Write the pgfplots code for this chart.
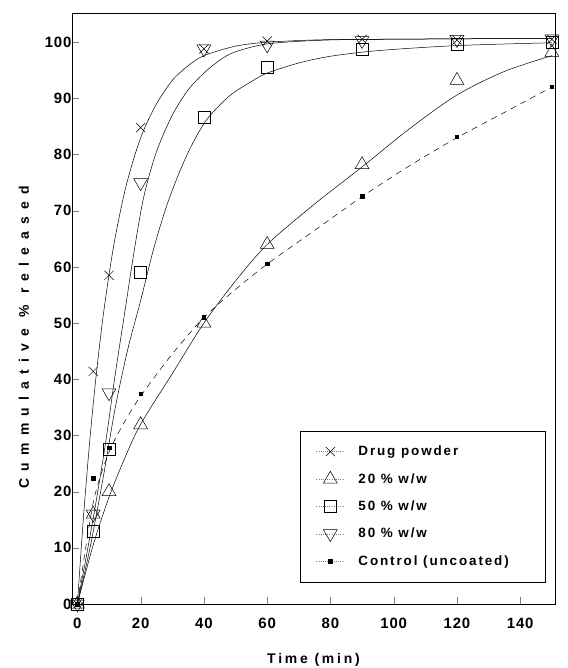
\documentclass[border=0pt]{standalone}
\usepackage{pgfplots}
\pgfplotsset{compat=1.18}
\usepackage{fontspec}
\setmainfont{Liberation Sans}

\begin{document}
\begin{tikzpicture}
\begin{axis}[
    name=ax,
    scale only axis, width=483bp, height=591bp,
    xmin=-1.7, xmax=151,
    ymin=0, ymax=105.2,
    xtick={0,20,...,140},
    ytick={0,10,...,100},
    tick align=inside,
    xtick pos=bottom, ytick pos=left,
    major tick length=7bp,
    axis line style={line width=0.6pt},
    /pgf/number format/assume math mode=true,
    tick label style={font=\bfseries\fontsize{15}{15}\selectfont\addfontfeatures{LetterSpace=6}},
    yticklabel style={xshift=3bp},
    xticklabel style={yshift=-11bp},
    xlabel={\addfontfeatures{LetterSpace=20}Time (min)},
    ylabel={\addfontfeatures{LetterSpace=52}Cummulative \% released},
    label style={font=\bfseries\fontsize{14}{14}\selectfont},
    xlabel style={yshift=-17bp},
    ylabel style={yshift=9bp, xshift=-29bp},
    clip=false,
    every axis plot/.append style={black, line width=0.5pt},
    legend style={at={(0.472,0.037)}, anchor=south west, draw=black, line width=0.5pt,
        font=\bfseries\fontsize{13.5}{13.5}\selectfont\addfontfeatures{LetterSpace=14},
        row sep=12bp, column sep=12bp, inner xsep=16bp, inner ysep=13bp,
        cells={anchor=west}},
    legend image code/.code={%
        \draw[gray, very thin, dotted] (0bp,0bp) -- (28bp,0bp);
        \draw[mark repeat=2,mark phase=2,#1,solid,only marks]
            plot coordinates {(0bp,0bp) (14bp,0bp) (28bp,0bp)};},
]
% fitted curves
\addplot[forget plot, smooth] coordinates {
    (0,0) (2,16) (4,29.6) (6,41) (8,50.6) (10,58.6) (12,65.4) (15,73.5) (18,79.6)
    (21,84.4) (25,89) (30,93.2) (35,95.8) (40,97.6) (50,99.3) (60,100) (75,100.4)
    (90,100.5) (120,100.6) (150,100.7)};
\addplot[forget plot, smooth] coordinates {
    (0,0) (3,9) (6,18.5) (9,29) (12,41) (15,52) (18,63) (21,72.5) (25,80.5) (30,87)
    (35,91.5) (40,94.5) (45,96.8) (50,98.3) (60,99.7) (75,100.3) (90,100.5)
    (120,100.6) (150,100.7)};
\addplot[forget plot, smooth] coordinates {
    (0,0) (4,10) (8,22) (12,35) (16,45.5) (20,54) (24,63) (28,70.5) (32,76.5)
    (36,81.5) (41,86.3) (48,90.4) (55,93) (60,94.5) (70,96.3) (80,97.5) (95,98.5)
    (120,99.4) (150,99.9)};
\addplot[forget plot, smooth] coordinates {
    (0,0) (5,10.5) (10,19) (15,26) (20,32) (30,41) (40,50) (50,57.5) (60,64)
    (75,71.2) (90,77.8) (105,84.6) (120,90.6) (135,94.8) (150,97.6)};
\addplot[forget plot, smooth, dashed, dash pattern=on 6bp off 5bp] coordinates {
    (0,0) (5,18) (10,27) (15,32.5) (20,37) (30,44.5) (40,51) (50,56) (60,60.5)
    (75,66.5) (90,72.5) (105,78) (120,83) (135,87.5) (150,92)};
% measured points
\addplot[only marks, mark=x, mark size=6.5bp] coordinates {
    (0,0) (5,41.4) (10,58.5) (20,84.8) (40,98.8) (60,100.2) (90,100.5) (120,100.4) (150,100.5)};
\addplot[only marks, mark=triangle, mark size=8bp] coordinates {
    (0,0) (5,16) (10,20) (20,31.9) (40,50) (60,64) (90,78.2) (120,93.2) (150,98.2)};
\addplot[only marks, mark=square, mark size=6bp] coordinates {
    (0,0) (5,13) (10,27.5) (20,59) (40,86.6) (60,95.5) (90,98.8) (120,99.6) (150,100)};
\addplot[only marks, mark=triangle, mark size=8bp, mark options={rotate=180}] coordinates {
    (0,0) (5,16) (10,37.6) (20,75) (40,98.8) (60,99.5) (90,100.3) (120,100.5) (150,100.6)};
\addplot[only marks, mark=square*, mark size=1.8bp] coordinates {
    (0,0) (5,22.4) (10,27.8) (20,37.4) (40,51) (60,60.6) (90,72.6) (120,83.2) (150,92.1)};
\legend{Drug powder, 20 \% w/w, 50 \% w/w, 80 \% w/w,
    Control (uncoated)\hspace*{18bp}\mbox{}}
\end{axis}
\pgfresetboundingbox
\path ([shift={(-72bp,-64bp)}]ax.south west) rectangle ([shift={(13bp,13bp)}]ax.north east);
\end{tikzpicture}
\end{document}
